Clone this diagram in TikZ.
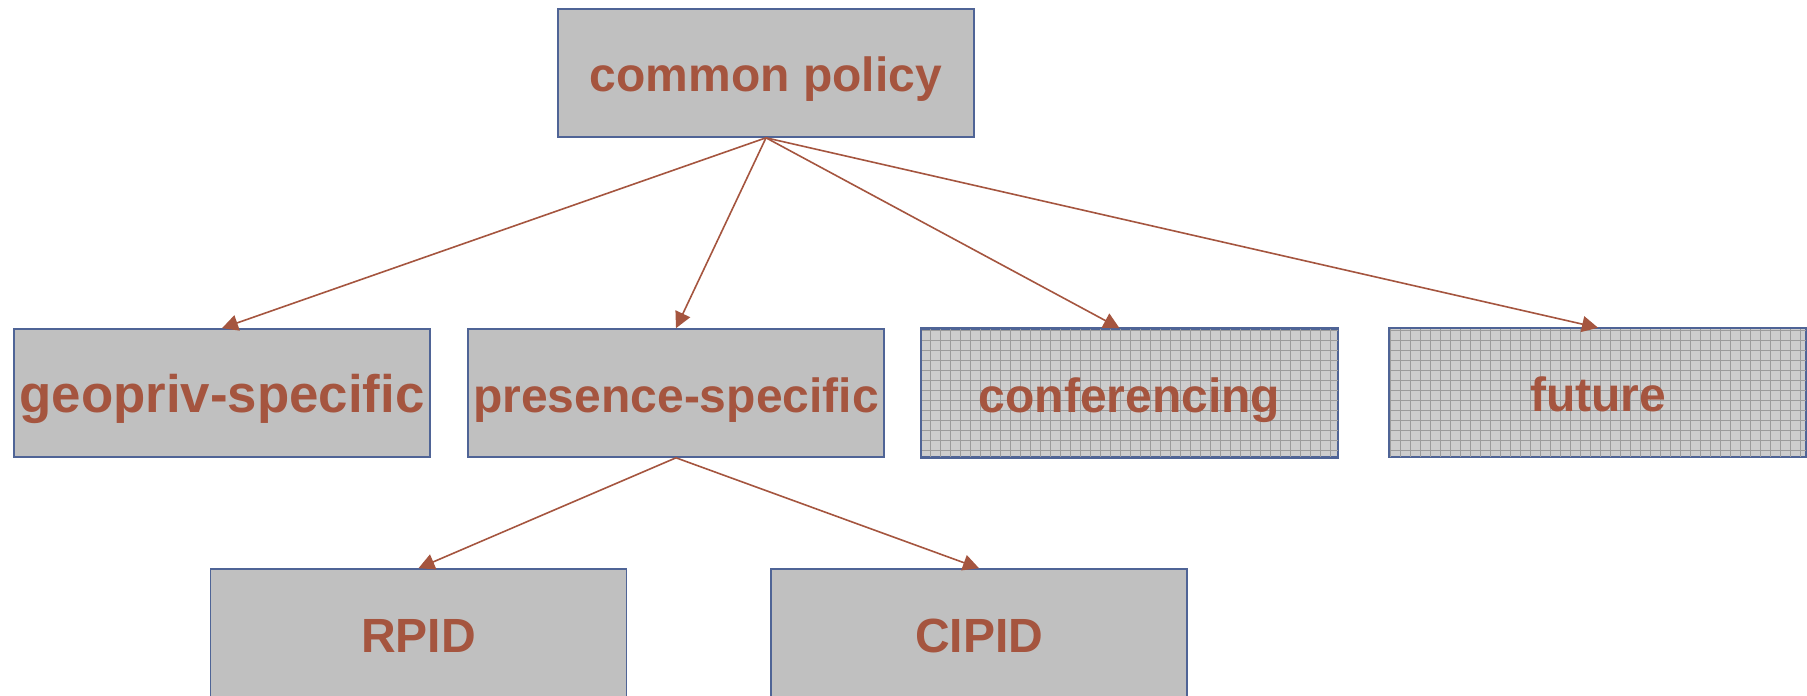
\documentclass[tikz,border=0pt]{standalone}
\usepackage{fontspec}
\setmainfont{Liberation Sans}
\usetikzlibrary{arrows.meta}
\definecolor{txtred}{RGB}{165,85,63}
\definecolor{boxgray}{RGB}{192,192,192}
\definecolor{boxedge}{RGB}{79,100,150}
\definecolor{hatchgray}{RGB}{205,205,205}
\definecolor{gridgray}{RGB}{155,155,155}
\begin{document}
\begin{tikzpicture}[x=0.5pt,y=-0.5pt,
	policy/.style={draw=boxedge,line width=0.8pt,fill=boxgray,minimum width=208pt,minimum height=64pt,inner sep=0pt,label text},
	label text/.style={text=txtred,font=\bfseries\fontsize{24}{28}\selectfont,text height=23pt,text depth=4pt},
	hatched/.style={policy,fill=hatchgray},
	link/.style={draw=txtred,line width=0.8pt,-{Triangle[length=8pt,width=8pt]}}]
			\clip (0,0) rectangle (1807,695);
			\fill[white] (0,0) rectangle (1807,695);
			\node[policy] (common) at (766,73) {common policy};
			\node[policy,font=\bfseries\fontsize{26.4}{30}\selectfont] (geo) at (222,393) {geopriv-specific};
			\node[policy] (pres) at (676,393) {presence-specific};
			\node[hatched] (conf) at (1129.5,393) {};
			\node[hatched] (fut) at (1598,392.5) {};
			\foreach \b in {conf,fut} {
				\begin{scope}
				\clip (\b.south west) rectangle (\b.north east);
				\draw[gridgray,line width=0.3pt,step=5pt] (\b.south west) grid (\b.north east);
				\end{scope}
				\draw[boxedge,line width=0.8pt] (\b.south west) rectangle (\b.north east);
			}
			\node[label text] at (conf) {conferencing};
			\node[label text] at (fut) {future};
			\node[policy] (rpid) at (418.5,633) {RPID};
			\node[policy] (cipid) at (979,633) {CIPID};
			
			
			\draw[link] (common.south) -- (geo.north);
			\draw[link] (common.south) -- (pres.north);
			\draw[link] (common.south) -- ([xshift=-5pt]conf.north);
			\draw[link] (common.south) -- (fut.north);
			\draw[link] (pres.south) -- (rpid.north);
			\draw[link] (pres.south) -- (cipid.north);
			\end{tikzpicture}
\end{document}
